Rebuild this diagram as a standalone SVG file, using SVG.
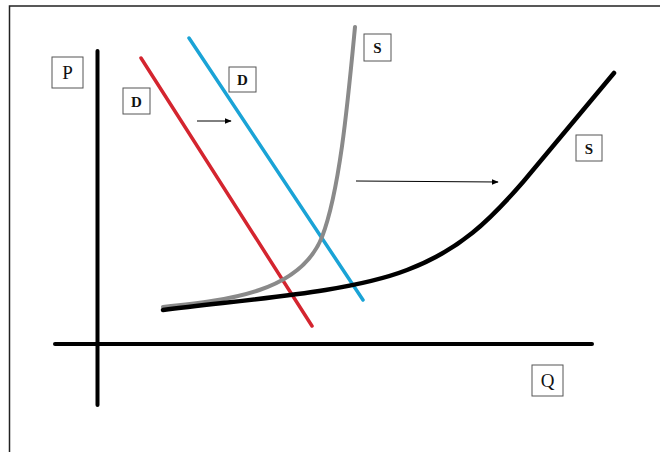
<svg xmlns="http://www.w3.org/2000/svg" width="660" height="452" viewBox="0 0 660 452">
<style>
.box{fill:#fff;stroke:#555;stroke-width:1}
.lbl{font-family:"Liberation Serif","DejaVu Serif",serif;fill:#111;text-anchor:middle}
.big{font-size:19px}
.sm{font-size:15px;font-weight:bold}
.ax{stroke:#000;stroke-width:4;stroke-linecap:round;fill:none}
.arr{stroke:#000;stroke-width:1;fill:none}
</style>
<defs>
<marker id="ah" viewBox="0 0 10 10" refX="9" refY="5" markerWidth="7" markerHeight="7" markerUnits="userSpaceOnUse" orient="auto">
<path d="M0,1 L10,5 L0,9 Z" fill="#000"/>
</marker>
</defs>
<rect x="0" y="0" width="660" height="452" fill="#fff"/>
<path d="M9.5,452 V6 H660" fill="none" stroke="#222" stroke-width="1.5"/>
<g id="axes">
<line class="ax" x1="97.5" y1="51" x2="97.5" y2="405"/>
<line class="ax" x1="55" y1="344" x2="592" y2="344"/>
</g>
<g id="connectors">
<line x1="141" y1="58" x2="312" y2="326" stroke="#d4252f" stroke-width="3.5" stroke-linecap="round"/>
<line x1="189" y1="38" x2="363" y2="300" stroke="#1aa3d6" stroke-width="3.5" stroke-linecap="round"/>
<path d="M163,307 C230,300 300,292 322,237 C340,190 348,100 355,27" fill="none" stroke="#8a8a8a" stroke-width="4" stroke-linecap="round"/>
<path d="M163,310 C260,298 350,292 407,270 C460,250 490,220 523,182 L614,73" fill="none" stroke="#000" stroke-width="4.5" stroke-linecap="round"/>
<line class="arr" x1="197" y1="121" x2="231" y2="121" marker-end="url(#ah)"/>
<line class="arr" x1="356" y1="181" x2="498" y2="182" marker-end="url(#ah)"/>
</g>
<g id="P"><rect class="box" x="52" y="57" width="31" height="31"/><text class="lbl big" x="67.5" y="79">P</text></g>
<g id="Q"><rect class="box" x="532" y="365" width="31" height="31"/><text class="lbl big" x="547.5" y="387">Q</text></g>
<g id="D1"><rect class="box" x="123" y="88" width="27" height="26"/><text class="lbl sm" x="136.5" y="106.5">D</text></g>
<g id="D2"><rect class="box" x="229" y="67" width="27" height="25"/><text class="lbl sm" x="242.5" y="85">D</text></g>
<g id="S1"><rect class="box" x="364" y="34" width="27" height="27"/><text class="lbl sm" x="377.5" y="52.5">S</text></g>
<g id="S2"><rect class="box" x="576" y="135" width="26" height="26"/><text class="lbl sm" x="589" y="153.5">S</text></g>
</svg>
